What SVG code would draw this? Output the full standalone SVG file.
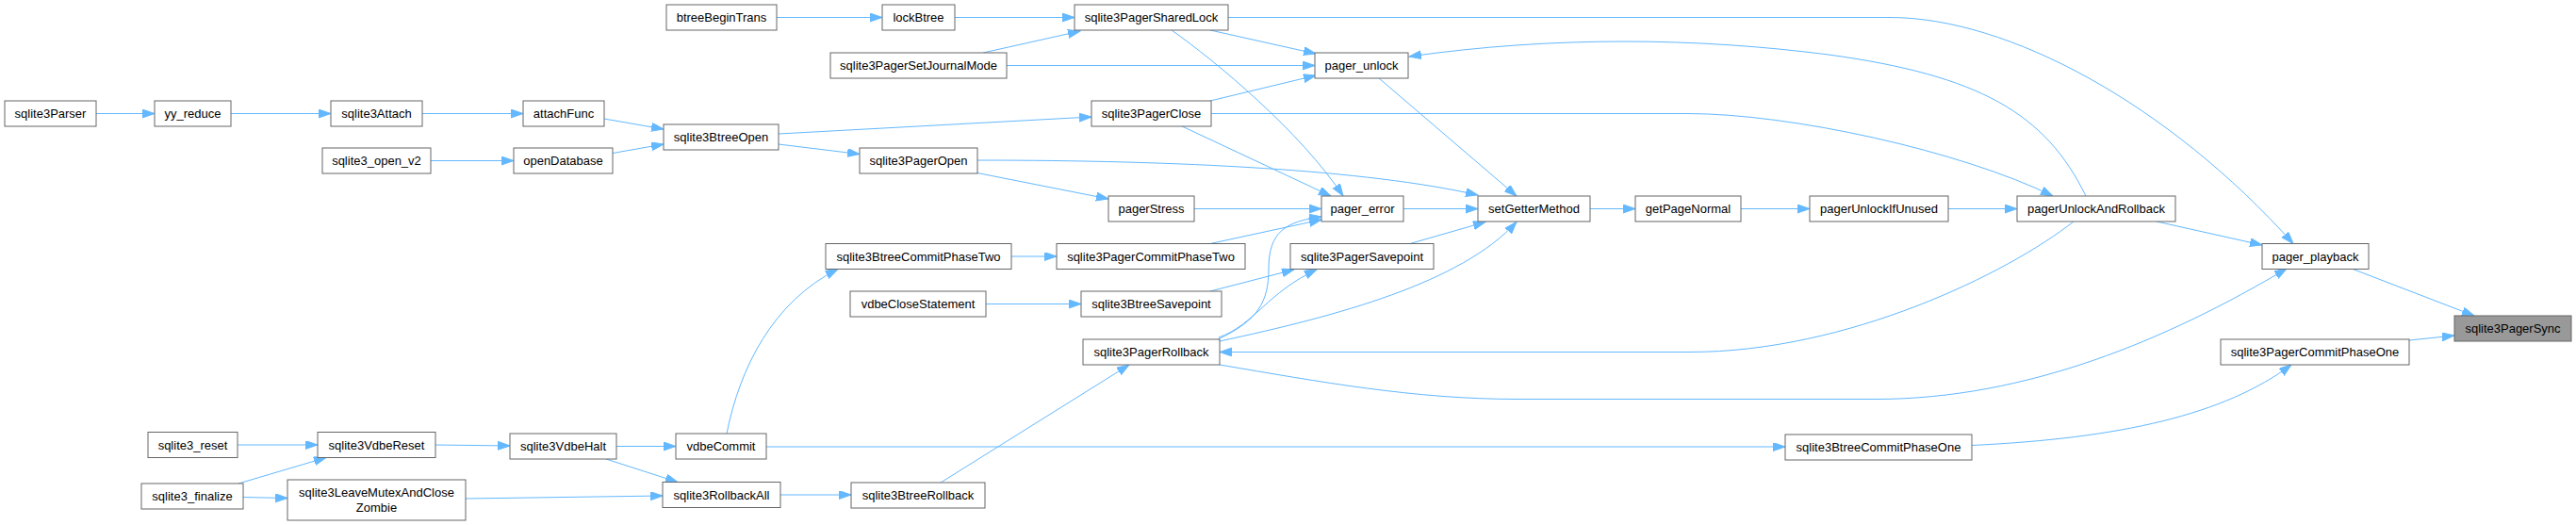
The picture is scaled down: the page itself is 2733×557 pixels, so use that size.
<svg xmlns="http://www.w3.org/2000/svg" width="2733" height="557" viewBox="0 0 2733 557">
<style>
.n rect{fill:#ffffff;stroke:#666666;stroke-width:1}
.n.h rect{fill:#999999}
.n text{font-family:"Liberation Sans",Arial,sans-serif;font-size:13px;fill:#000000;text-anchor:middle}
.e path{fill:none;stroke:#63b8ff;stroke-width:1;marker-end:url(#ah)}
</style>
<defs>
<marker id="ah" markerUnits="userSpaceOnUse" markerWidth="14" markerHeight="10" refX="13" refY="4.5" orient="auto">
<path d="M0,0 L13,4.5 L0,9 z" fill="#63b8ff" stroke="#63b8ff" stroke-width="1"/>
</marker>
</defs>
<rect x="0" y="0" width="2733" height="557" fill="#ffffff"/>
<g id="edges" class="e">
<path d="M102,120.5 L164,120.5"/>
<path d="M245,120.5 L351,120.5"/>
<path d="M448,120.5 L555,120.5"/>
<path d="M641,126 L704,137"/>
<path d="M457,170.5 L545,170.5"/>
<path d="M650,162.5 L704,153"/>
<path d="M824,18.5 L936,18.5"/>
<path d="M1013,18.5 L1140,18.5"/>
<path d="M1043,56 L1146,33"/>
<path d="M1068,69.5 L1395,69.5"/>
<path d="M1284,32 L1396,57"/>
<path d="M1243,32 C1290,65 1380,140 1425,208"/>
<path d="M1284,107 L1396,80"/>
<path d="M826,142 L1158,124"/>
<path d="M826,153 L912,163.5"/>
<path d="M1285,120.5 L1790,120.5 C1900,120.5 2080,160 2178,208"/>
<path d="M1252,133 L1412,208"/>
<path d="M1037,170 C1250,170 1450,180 1568,207"/>
<path d="M1037,183.5 L1176,211"/>
<path d="M1267,221.5 L1402,221.5"/>
<path d="M1463,83 L1609,208"/>
<path d="M1489,221.5 L1568,221.5"/>
<path d="M1687,221.5 L1735,221.5"/>
<path d="M1847,221.5 L1920,221.5"/>
<path d="M2067,221.5 L2140,221.5"/>
<path d="M2213,208 C2170,120 2100,80 1940,58 C1800,40 1650,38 1495,60"/>
<path d="M1303,18.5 L2005,18.5 C2130,18.5 2300,110 2433,258.5"/>
<path d="M2288,235 L2400,260"/>
<path d="M2495,285 L2625,335"/>
<path d="M2556,361 L2604,356"/>
<path d="M2200,235 C2130,290 1960,373.5 1793,373.5 L1294,373.5"/>
<path d="M1294,387 C1400,405 1500,423.5 1610,423.5 L1990,423.5 C2150,423.5 2300,360 2426,285"/>
<path d="M2092,472.5 C2250,465 2360,440 2431,387"/>
<path d="M813,474 L1894,474"/>
<path d="M771,460 C785,390 820,320 889,285.5"/>
<path d="M1073,272 L1121,272"/>
<path d="M1284,258.5 L1402,233"/>
<path d="M1496,258.5 L1576,235.5"/>
<path d="M1046,322.5 L1147,322.5"/>
<path d="M1284,309 L1373,286"/>
<path d="M1293,358 C1330,345 1345,310 1397,286"/>
<path d="M1292,360 C1335,340 1346,320 1346,285 C1346,245 1365,235 1402,230"/>
<path d="M1294,362 C1420,335 1550,300 1609,235.5"/>
<path d="M998,512 L1198,387"/>
<path d="M828,525 L903,525"/>
<path d="M654,473.5 L717,473.5"/>
<path d="M643,487 L719,511.5"/>
<path d="M462,472 L541,473"/>
<path d="M252,472 L337,472"/>
<path d="M253,513 L346,485.5"/>
<path d="M258,527.5 L305,528.5"/>
<path d="M494,529 L703,526"/>
</g>
<g id="sqlite3Parser" class="n"><rect x="5" y="107" width="97" height="27"/><text x="53.5" y="125">sqlite3Parser</text></g>
<g id="yy_reduce" class="n"><rect x="164" y="107" width="81" height="27"/><text x="204.5" y="125">yy_reduce</text></g>
<g id="sqlite3Attach" class="n"><rect x="351" y="107" width="97" height="27"/><text x="399.5" y="125">sqlite3Attach</text></g>
<g id="attachFunc" class="n"><rect x="555" y="107" width="86" height="27"/><text x="598" y="125">attachFunc</text></g>
<g id="sqlite3_open_v2" class="n"><rect x="342" y="157" width="115" height="27"/><text x="399.5" y="175">sqlite3_open_v2</text></g>
<g id="openDatabase" class="n"><rect x="545" y="157" width="105" height="27"/><text x="597.5" y="175">openDatabase</text></g>
<g id="sqlite3BtreeOpen" class="n"><rect x="704" y="132" width="122" height="27"/><text x="765" y="150">sqlite3BtreeOpen</text></g>
<g id="btreeBeginTrans" class="n"><rect x="707" y="5" width="117" height="27"/><text x="765.5" y="23">btreeBeginTrans</text></g>
<g id="lockBtree" class="n"><rect x="936" y="5" width="77" height="27"/><text x="974.5" y="23">lockBtree</text></g>
<g id="sqlite3PagerSharedLock" class="n"><rect x="1140" y="5" width="163" height="27"/><text x="1221.5" y="23">sqlite3PagerSharedLock</text></g>
<g id="sqlite3PagerSetJournalMode" class="n"><rect x="881" y="56" width="187" height="27"/><text x="974.5" y="74">sqlite3PagerSetJournalMode</text></g>
<g id="pager_unlock" class="n"><rect x="1395" y="56" width="99" height="27"/><text x="1444.5" y="74">pager_unlock</text></g>
<g id="sqlite3PagerClose" class="n"><rect x="1158" y="107" width="127" height="27"/><text x="1221.5" y="125">sqlite3PagerClose</text></g>
<g id="sqlite3PagerOpen" class="n"><rect x="912" y="157" width="125" height="27"/><text x="974.5" y="175">sqlite3PagerOpen</text></g>
<g id="pagerStress" class="n"><rect x="1176" y="208" width="91" height="27"/><text x="1221.5" y="226">pagerStress</text></g>
<g id="pager_error" class="n"><rect x="1402" y="208" width="87" height="27"/><text x="1445.5" y="226">pager_error</text></g>
<g id="setGetterMethod" class="n"><rect x="1568" y="208" width="119" height="27"/><text x="1627.5" y="226">setGetterMethod</text></g>
<g id="getPageNormal" class="n"><rect x="1735" y="208" width="112" height="27"/><text x="1791" y="226">getPageNormal</text></g>
<g id="pagerUnlockIfUnused" class="n"><rect x="1920" y="208" width="147" height="27"/><text x="1993.5" y="226">pagerUnlockIfUnused</text></g>
<g id="pagerUnlockAndRollback" class="n"><rect x="2140" y="208" width="168" height="27"/><text x="2224" y="226">pagerUnlockAndRollback</text></g>
<g id="pager_playback" class="n"><rect x="2400" y="258.5" width="113" height="27"/><text x="2456.5" y="276.5">pager_playback</text></g>
<g id="sqlite3PagerSync" class="n h"><rect x="2604" y="335" width="124" height="27"/><text x="2666" y="353">sqlite3PagerSync</text></g>
<g id="sqlite3PagerCommitPhaseOne" class="n"><rect x="2356" y="360" width="200" height="27"/><text x="2456" y="378">sqlite3PagerCommitPhaseOne</text></g>
<g id="sqlite3BtreeCommitPhaseTwo" class="n"><rect x="876" y="258.5" width="197" height="27"/><text x="974.5" y="276.5">sqlite3BtreeCommitPhaseTwo</text></g>
<g id="sqlite3PagerCommitPhaseTwo" class="n"><rect x="1121" y="258.5" width="200" height="27"/><text x="1221" y="276.5">sqlite3PagerCommitPhaseTwo</text></g>
<g id="sqlite3PagerSavepoint" class="n"><rect x="1369" y="258.5" width="152" height="27"/><text x="1445" y="276.5">sqlite3PagerSavepoint</text></g>
<g id="vdbeCloseStatement" class="n"><rect x="902" y="309" width="144" height="27"/><text x="974" y="327">vdbeCloseStatement</text></g>
<g id="sqlite3BtreeSavepoint" class="n"><rect x="1147" y="309" width="149" height="27"/><text x="1221.5" y="327">sqlite3BtreeSavepoint</text></g>
<g id="sqlite3PagerRollback" class="n"><rect x="1149" y="360" width="145" height="27"/><text x="1221.5" y="378">sqlite3PagerRollback</text></g>
<g id="sqlite3_reset" class="n"><rect x="157" y="458.5" width="95" height="27"/><text x="204.5" y="476.5">sqlite3_reset</text></g>
<g id="sqlite3VdbeReset" class="n"><rect x="337" y="458.5" width="125" height="27"/><text x="399.5" y="476.5">sqlite3VdbeReset</text></g>
<g id="sqlite3VdbeHalt" class="n"><rect x="541" y="460" width="113" height="27"/><text x="597.5" y="478">sqlite3VdbeHalt</text></g>
<g id="vdbeCommit" class="n"><rect x="717" y="460" width="96" height="27"/><text x="765" y="478">vdbeCommit</text></g>
<g id="sqlite3BtreeCommitPhaseOne" class="n"><rect x="1894" y="461" width="198" height="27"/><text x="1993" y="479">sqlite3BtreeCommitPhaseOne</text></g>
<g id="sqlite3_finalize" class="n"><rect x="150" y="513" width="108" height="27"/><text x="204" y="531">sqlite3_finalize</text></g>
<g id="sqlite3LeaveMutexAndCloseZombie" class="n"><rect x="305" y="509" width="189" height="43"/><text x="399.5" y="527">sqlite3LeaveMutexAndClose</text><text x="399.5" y="543">Zombie</text></g>
<g id="sqlite3RollbackAll" class="n"><rect x="703" y="511.5" width="125" height="27"/><text x="765.5" y="529.5">sqlite3RollbackAll</text></g>
<g id="sqlite3BtreeRollback" class="n"><rect x="903" y="512" width="142" height="27"/><text x="974" y="530">sqlite3BtreeRollback</text></g>
</svg>
